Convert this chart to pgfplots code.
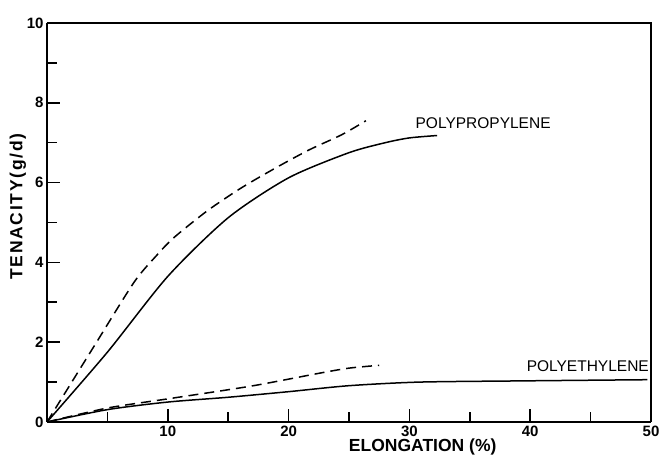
\documentclass[border=0pt]{standalone}
\usepackage{fontspec}
\setmainfont{Liberation Sans}
\usepackage{pgfplots}
\pgfplotsset{compat=1.18}
\begin{document}
\begin{tikzpicture}
\useasboundingbox (-47pt,-40pt) rectangle (616pt,422pt);
\begin{axis}[
  scale only axis,
  width=604pt, height=399pt,
  xmin=0, xmax=50, ymin=0, ymax=10,
  axis x line*=bottom, axis y line*=left,
  axis line style={line width=2.6pt},
  xtick={10,20,30,40,50},
  minor xtick={5,15,25,35,45},
  ytick={0,2,4,6,8,10},
  minor ytick={1,3,5,7,9},
  tick align=inside,
  major tick length=13pt, minor tick length=10pt,
  every tick/.style={line width=1.6pt, black},
  /pgf/number format/assume math mode=true,
  tick label style={font=\bfseries\fontsize{15}{15}\selectfont},
  xlabel={ELONGATION (\%)},
  ylabel={\addfontfeatures{LetterSpace=10}TENACITY(g/d)},
  label style={font=\bfseries\fontsize{17.5}{17.5}\selectfont},
  xlabel style={at={(axis description cs:0.622,-0.063)}, anchor=center},
  ylabel style={at={(axis description cs:-0.048,0.54)}, anchor=center},
  clip=false,
]
\draw[line width=2pt] (rel axis cs:0,1) -- (rel axis cs:1,1) -- (rel axis cs:1,0);
% Polypropylene solid
\addplot[black, line width=1.5pt, smooth, tension=0.45] coordinates {
 (0,0) (5,1.75) (10,3.65) (15,5.12) (20,6.12) (25,6.75) (28,7.0) (30,7.12) (32.3,7.18)};
% Polypropylene dashed
\addplot[black, line width=1.5pt, smooth, tension=0.45, dash pattern=on 10pt off 6pt] coordinates {
 (0,0) (4,1.95) (7.2,3.5) (9,4.15) (10.5,4.62) (13.3,5.3) (16.1,5.87)
 (19,6.38) (21.7,6.82) (24.4,7.2) (26.4,7.55)};
% Polyethylene solid
\addplot[black, line width=1.5pt, smooth, tension=0.45] coordinates {
 (0,0) (5,0.31) (10,0.5) (15,0.62) (20,0.76) (25,0.91) (30.8,1.0)
 (39.2,1.03) (49.7,1.06)};
% Polyethylene dashed
\addplot[black, line width=1.5pt, smooth, tension=0.45, dash pattern=on 10pt off 6pt] coordinates {
 (0,0) (5,0.35) (10,0.58) (16.9,0.9) (22.5,1.22) (25,1.35) (27.5,1.42)};
\node[anchor=west, inner sep=0pt, font=\fontsize{15.5}{15.5}\selectfont] at (axis cs:30.5,7.48) {POLYPROPYLENE};
\node[anchor=west, inner sep=0pt, font=\fontsize{15.5}{15.5}\selectfont] at (axis cs:39.7,1.39) {POLYETHYLENE};
\end{axis}
\end{tikzpicture}
\end{document}
